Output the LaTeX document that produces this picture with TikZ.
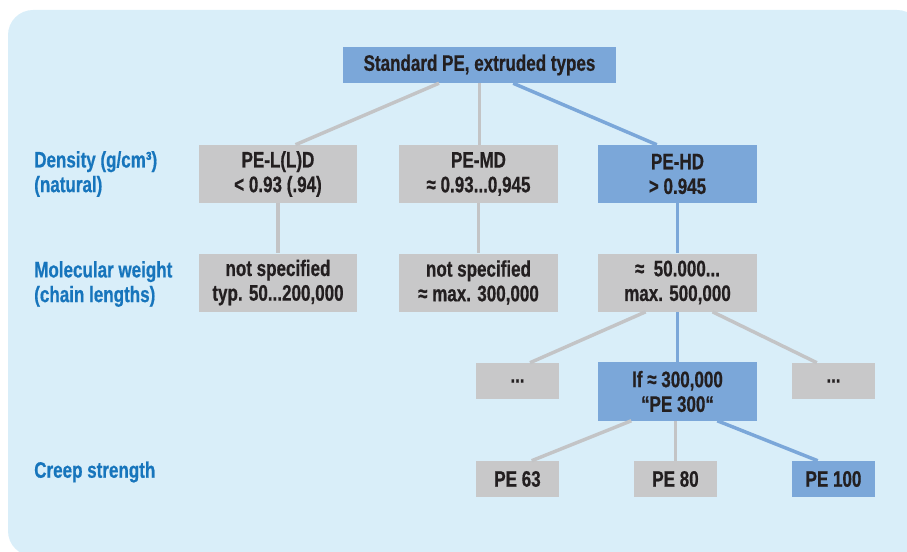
\documentclass[tikz,border=0pt]{standalone}
\usepackage{fontspec}
\setmainfont{Liberation Sans}[FakeStretch=0.76, BoldFeatures={FakeBold=0.6}]
\usetikzlibrary{positioning, calc}
\definecolor{bgblue}{HTML}{D9EEF9}
\definecolor{boxblue}{HTML}{7BA7D9}
\definecolor{boxgray}{HTML}{C8C8C9}
\definecolor{txtdark}{HTML}{231F20}
\definecolor{lblblue}{HTML}{1775BC}
\definecolor{linegray}{HTML}{C3C4C6}
\tikzset{
  graybox/.style={rectangle, minimum width=119pt, minimum height=43.5pt, text centered, align=center, fill=boxgray, text=txtdark, inner sep=0pt},
  bluebox/.style={graybox, fill=boxblue},
  smallgray/.style={graybox, minimum width=62pt, minimum height=27pt},
  smallblue/.style={smallgray, fill=boxblue},
  rowlabel/.style={anchor=west, align=left, text=lblblue, inner sep=0pt},
  grayline/.style={draw=linegray, line width=2.6pt},
  blueline/.style={draw=boxblue, line width=2.6pt}
}

\begin{document}
\begin{tikzpicture}[x=0.75pt, y=-0.75pt, font=\fontsize{16.8}{18.5}\selectfont\bfseries]
  \useasboundingbox (0,0) rectangle (907,552);

  % Background panel
  \fill[bgblue, rounded corners=18.75pt] (8,10) rectangle (922,556);

  % Root
  \node (root) [bluebox, minimum width=205pt, minimum height=27pt] at (479.5,65) {Standard PE, extruded types};

  % Density row
  \node (lld) [graybox] at (278,174) {PE-L(L)D\\< 0.93 (.94)};
  \node (md) [graybox] at (478.5,174) {PE-MD\\≈ 0.93...0,945};
  \node (hd) [bluebox] at (677.5,174) {PE-HD\\> 0.945};

  % Molecular weight row
  \node (mwl) [graybox, below=37.5pt of lld] {not specified\\typ. 50...200,000};
  \node (mwm) [graybox, below=37.5pt of md] {not specified\\≈ max. 300,000};
  \node (mwh) [graybox, below=37.5pt of hd] {≈~ 50.000...\\max. 500,000};

  % Third row
  \node (pe300) [bluebox] at (677.5,391.5) {If ≈ 300,000\\“PE 300“};
  \node (dotsl) [smallgray] at (517.5,381) {...};
  \node (dotsr) [smallgray] at (833.5,381) {...};

  % Creep strength row
  \node (pe63) [smallgray] at (517.5,479) {PE 63};
  \node (pe80) [smallgray] at (675.5,479) {PE 80};
  \node (pe100) [smallblue] at (833.5,479) {PE 100};

  % Row labels
  \node (lbldens) [rowlabel] at (34,174) {Density (g/cm³)\\(natural)};
  \node (lblmw) [rowlabel] at (34,284) {Molecular weight\\(chain lengths)};
  \node (lblcreep) [rowlabel] at (34,472) {Creep strength};

  % Connections
  \draw [grayline] ($(root.south west)!0.352!(root.south east)$) -- ($(lld.north west)!0.61!(lld.north east)$);
  \draw [grayline] (root.south) -- (root.south |- md.north);
  \draw [blueline] ($(root.south west)!0.623!(root.south east)$) -- ($(hd.north west)!0.37!(hd.north east)$);

  \draw [grayline] (lld) -- (mwl);
  \draw [grayline] (md) -- (mwm);
  \draw [blueline] (hd) -- (mwh);

  \draw [grayline] ($(mwh.south west)!0.30!(mwh.south east)$) -- ($(dotsl.north west)!0.65!(dotsl.north east)$);
  \draw [grayline] ($(mwh.south west)!0.72!(mwh.south east)$) -- ($(dotsr.north west)!0.30!(dotsr.north east)$);
  \draw [blueline] (mwh) -- (pe300);

  \draw [grayline] ($(pe300.south west)!0.21!(pe300.south east)$) -- ($(pe63.north west)!0.67!(pe63.north east)$);
  \draw [grayline] (pe80.north) -- (pe80.north |- pe300.south);
  \draw [blueline] ($(pe300.south west)!0.75!(pe300.south east)$) -- ($(pe100.north west)!0.31!(pe100.north east)$);
\end{tikzpicture}
\end{document}
